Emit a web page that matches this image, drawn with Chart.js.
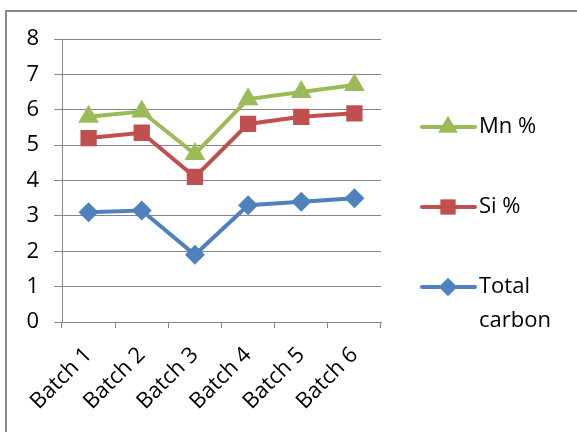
<!DOCTYPE html>
<html>
<head>
<meta charset="utf-8">
<script src="https://cdn.jsdelivr.net/npm/chart.js@4.4.1/dist/chart.umd.min.js"></script>
<style>
  html, body { margin: 0; padding: 0; background: #fff; }
  #wrap { position: relative; width: 577px; height: 432px; overflow: hidden; }
  #frame { position: absolute; left: 5px; top: 10px; width: 600px; height: 500px;
           border-left: 2px solid #8a8a8a; border-top: 2px solid #8a8a8a; }
  canvas { position: absolute; left: 0; top: 0; }
</style>
</head>
<body>
<div id="wrap">
  <div id="frame"></div>
  <canvas id="grafico" width="577" height="432"></canvas>
</div>
<script>
var lotes = ['Batch 1', 'Batch 2', 'Batch 3', 'Batch 4', 'Batch 5', 'Batch 6'];
var carbonoTotal = [3.1, 3.15, 1.9, 3.3, 3.4, 3.5];
var silicio = [5.2, 5.35, 4.1, 5.6, 5.8, 5.9];
var manganeso = [5.8, 5.95, 4.75, 6.3, 6.5, 6.7];
var ticksY = [0, 1, 2, 3, 4, 5, 6, 7, 8];

var fuente = '"Open Sans", sans-serif';
var gris = '#868686';

var series = [
    { label: 'Mn %', lines: ['Mn %'], data: manganeso, color: '#9BBB59', style: 'triangle', radius: 12 },
    { label: 'Si %', lines: ['Si %'], data: silicio, color: '#C0504D', style: 'rect', radius: 11.5 },
    { label: 'Total carbon', lines: ['Total', 'carbon'], data: carbonoTotal, color: '#4F81BD', style: 'rectRot', radius: 10 }
];

// leyenda dibujada a mano (posiciones como en la imagen)
var leyenda = {
    id: 'leyenda',
    afterDraw: function (chart) {
        var ctx = chart.ctx;
        var filas = [127, 207, 287];
        ctx.save();
        series.forEach(function (s, i) {
            var y = filas[i];
            ctx.strokeStyle = s.color;
            ctx.lineWidth = 4;
            ctx.lineCap = 'round';
            ctx.beginPath();
            ctx.moveTo(422, y);
            ctx.lineTo(475, y);
            ctx.stroke();
            ctx.fillStyle = s.color;
            Chart.helpers.drawPoint(ctx, { pointStyle: s.style, radius: s.radius - 1, rotation: 0, borderWidth: 0 }, 448, y);
            ctx.fill();
            ctx.fillStyle = '#000';
            ctx.font = '22px ' + fuente;
            ctx.textBaseline = 'middle';
            ctx.textAlign = 'left';
            s.lines.forEach(function (t, j) {
                ctx.fillText(t, 479, y + j * 34);
            });
        });
        ctx.restore();
    }
};

var ctx = document.getElementById('grafico').getContext('2d');
var chart = new Chart(ctx, {
    type: 'line',
    data: {
        labels: lotes,
        datasets: series.map(function (s) {
            return {
                label: s.label,
                data: s.data,
                borderColor: s.color,
                backgroundColor: s.color,
                borderWidth: 4,
                pointStyle: s.style,
                pointRadius: s.radius,
                pointBorderWidth: 0,
                tension: 0,
                fill: false
            };
        })
    },
    options: {
        responsive: false,
        animation: false,
        layout: { padding: { top: 39, right: 196, left: 0, bottom: 0 } },
        plugins: {
            legend: { display: false },
            tooltip: { enabled: false }
        },
        scales: {
            x: {
                offset: true,
                grid: { offset: true, drawOnChartArea: false, color: gris, tickLength: 6, tickWidth: 1 },
                border: { color: gris, width: 1 },
                ticks: {
                    color: '#000',
                    font: { family: fuente, size: 22 },
                    maxRotation: 45,
                    minRotation: 45,
                    padding: 14
                },
                afterFit: function (scale) { scale.height = 110; }
            },
            y: {
                min: 0,
                max: 8,
                afterBuildTicks: function (scale) {
                    scale.ticks = ticksY.map(function (v) { return { value: v }; });
                },
                grid: { color: gris, lineWidth: 1, tickLength: 8 },
                border: { color: gris, width: 1 },
                ticks: {
                    color: '#000',
                    font: { family: fuente, size: 22 },
                    padding: 15
                },
                afterFit: function (scale) { scale.width = 62; }
            }
        }
    },
    plugins: [leyenda]
});
</script>
</body>
</html>
